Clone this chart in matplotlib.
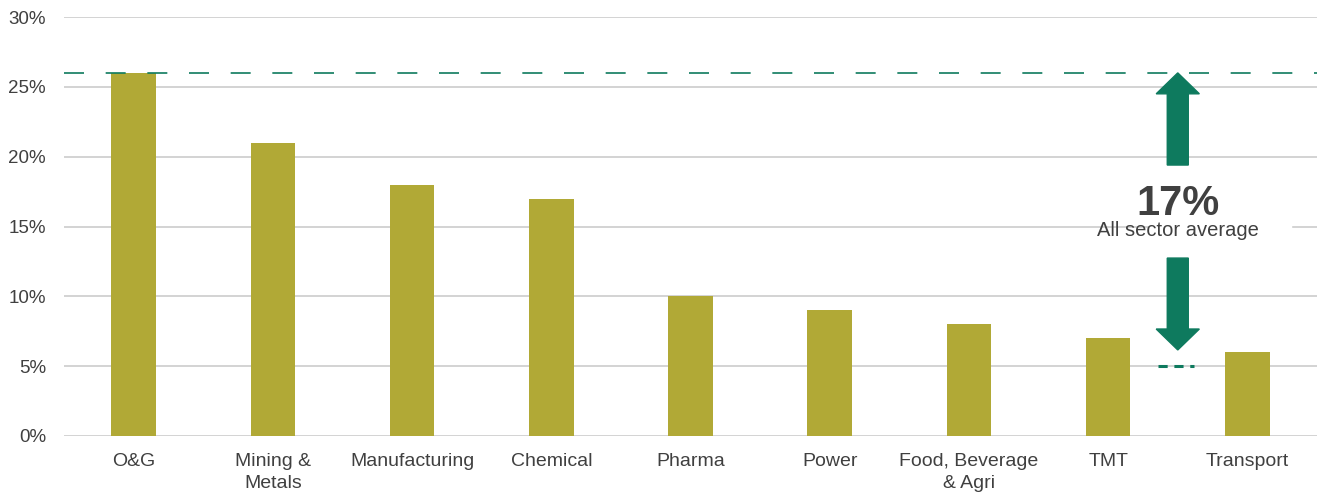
import matplotlib
matplotlib.use('Agg')
import matplotlib.pyplot as plt
from matplotlib.ticker import FuncFormatter

# data
sectors = ['O&G', 'Mining &\nMetals', 'Manufacturing', 'Chemical', 'Pharma',
           'Power', 'Food, Beverage\n& Agri', 'TMT', 'Transport']
values = [26, 21, 18, 17, 10, 9, 8, 7, 6]
top_value = 26
low_value = 5
avg_label = '17%'
avg_text = 'All sector average'

# colours
bar_color = '#B1A936'
green = '#0E7A5E'
text_color = '#404040'
grid_color = '#C8C8C8'

plt.rcParams['font.family'] = ['Liberation Sans', 'DejaVu Sans']

fig = plt.figure(figsize=(13.17, 4.95), dpi=100)
ax = fig.add_axes([64/1317, 59/495, 1 - 64/1317, 419/495])

x = list(range(len(sectors)))
ax.bar(x, values, width=0.32, color=bar_color, zorder=3)

ax.set_xlim(-0.5, len(sectors) - 0.5)
ax.set_ylim(0, 30)
ax.set_yticks(range(0, 31, 5))
ax.yaxis.set_major_formatter(FuncFormatter(lambda v, p: '%d%%' % v))
ax.set_xticks(x)
ax.set_xticklabels(sectors, fontsize=14, color=text_color, linespacing=1.4)
ax.tick_params(axis='y', length=0, pad=13, labelsize=13.5, labelcolor=text_color)
ax.tick_params(axis='x', length=0, pad=12)

ax.grid(axis='y', color=grid_color, linewidth=1.1, zorder=0)
for s in ['top', 'right', 'left', 'bottom']:
    ax.spines[s].set_visible(False)

# dashed reference lines
ax.axhline(top_value, color=green, linewidth=1.2, linestyle=(0, (12, 13)), zorder=4)
ax.plot([7.36, 7.62], [low_value, low_value], color=green, linewidth=2.2,
        linestyle=(0, (3, 2.2)), zorder=4)

# arrows
ax.arrow(7.5, 19.4, 0, top_value - 19.4, width=0.151, head_width=0.31,
         head_length=1.5, length_includes_head=True, color=green, zorder=5)
ax.arrow(7.5, 12.74, 0, 6.16 - 12.74, width=0.151, head_width=0.31,
         head_length=1.5, length_includes_head=True, color=green, zorder=5)

# white box behind label
ax.fill_between([7.29, 8.31], 13.5, 18.2, color='white', zorder=2)
ax.text(7.5, 16.6, avg_label, fontsize=30, fontweight='bold', color=text_color,
        ha='center', va='center', zorder=6)
ax.text(7.5, 14.7, avg_text, fontsize=14.5, color=text_color,
        ha='center', va='center', zorder=6)

fig.savefig('out.png', dpi=100)
